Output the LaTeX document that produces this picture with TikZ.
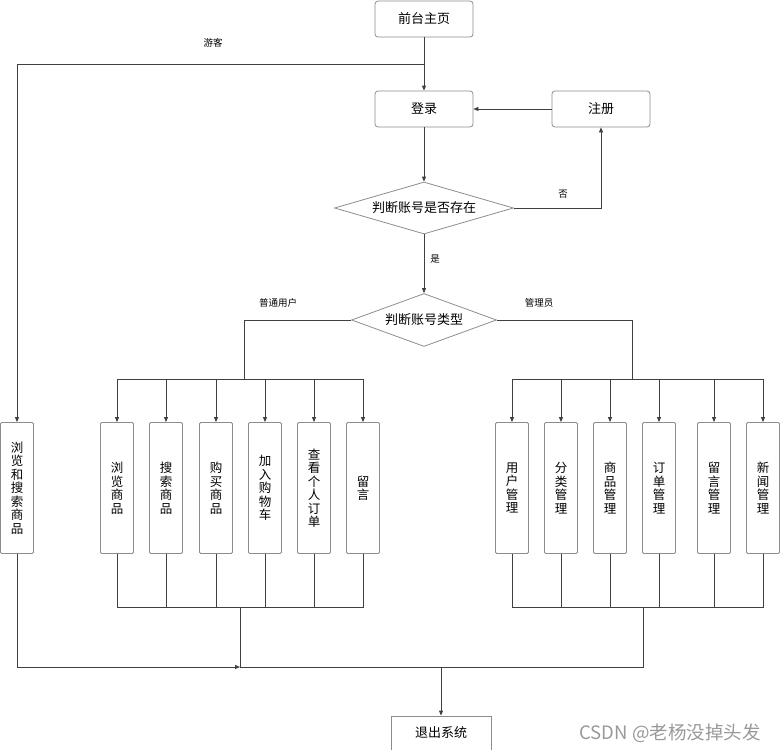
\documentclass[tikz,border=0pt]{standalone}
\usepackage{fontspec}
\newfontfamily\cjk{Noto Sans CJK SC}
\usetikzlibrary{positioning,arrows.meta,shapes.geometric,calc}

\begin{document}
\begin{tikzpicture}[
  x=1pt, y=-1pt,
  font=\cjk\fontsize{13}{15}\selectfont,
  box/.style={draw=black!45, line width=0.8pt, rounded corners=3pt, minimum width=98pt, minimum height=36pt, inner sep=2pt},
  decide/.style={diamond, draw=black!45, line width=0.8pt, inner sep=0pt, aspect=3},
  col/.style={draw=black!45, line width=0.8pt, rounded corners=1.2pt, minimum width=33pt, minimum height=131pt, inner sep=0pt, align=center, text width=14pt, font=\cjk\fontsize{12.5}{13.5}\selectfont},
  arr/.style={-{Triangle[length=5pt,width=4pt]}, black!75, line width=0.8pt},
  wire/.style={black!75, line width=0.8pt},
  note/.style={font=\cjk\fontsize{9.5}{11}\selectfont},
]
\useasboundingbox (0,0) rectangle (780,750);

% ---------------- top: entry, login, checks ----------------
\node[box] (home) at (424,19) {前台主页};
\node[box] (login) at (424,109) {登录};
\node[box] (reg) at (601,109) {注册};
\node[decide, minimum width=179pt, minimum height=52pt] (exists) at (424,208) {判断账号是否存在};
\node[decide, minimum width=145pt, minimum height=53pt] (kind) at (424,320) {判断账号类型};
\coordinate (guest) at (424,64);
\draw[arr] (home) -- (login);
\draw[arr] (reg) -- (login);
\draw[arr] (login) -- (exists);
\draw[arr] (exists.east) -| (reg.south);
\draw[arr] (exists) -- (kind);
\node[note] (lguest) at (213,43) {游客};
\node[note] (lno) at (563,194) {否};
\node[note] (lyes) at (435,259) {是};

% ---------------- guest column ----------------
\node[col] (browse) at (17,488) {浏\\览\\和\\搜\\索\\商\\品};
\draw[arr] (guest) -| (browse.north);

% ---------------- user columns ----------------
\node[col] (ubrowse) at (117,488) {浏\\览\\商\\品};
\node[col] (usearch) at (166,488) {搜\\索\\商\\品};
\node[col] (ubuy) at (216,488) {购\\买\\商\\品};
\node[col] (ucart) at (265,488) {加\\入\\购\\物\\车};
\node[col] (uorder) at (314,488) {查\\看\\个\\人\\订\\单};
\node[col] (umsg) at (363,488) {留\\言};
\coordinate (ubus) at (244,379);
\node[note] (luser) at (278,303) {普通用户};
\draw[wire] (kind.west) -| (ubus);
\draw[wire] (ubrowse.north |- ubus) -- (umsg.north |- ubus);
\draw[arr] (ubrowse.north |- ubus) -- (ubrowse.north);
\draw[arr] (usearch.north |- ubus) -- (usearch.north);
\draw[arr] (ubuy.north |- ubus) -- (ubuy.north);
\draw[arr] (ucart.north |- ubus) -- (ucart.north);
\draw[arr] (uorder.north |- ubus) -- (uorder.north);
\draw[arr] (umsg.north |- ubus) -- (umsg.north);

% ---------------- admin columns ----------------
\node[col] (auser) at (512,488) {用\\户\\管\\理};
\node[col] (acat) at (561,488) {分\\类\\管\\理};
\node[col] (agoods) at (610,488) {商\\品\\管\\理};
\node[col] (aorder) at (659,488) {订\\单\\管\\理};
\node[col] (amsg) at (714,488) {留\\言\\管\\理};
\node[col] (anews) at (763,488) {新\\闻\\管\\理};
\coordinate (abus) at (632,379);
\node[note] (ladmin) at (539,303) {管理员};
\draw[wire] (kind.east) -| (abus);
\draw[wire] (auser.north |- abus) -- (anews.north |- abus);
\draw[arr] (auser.north |- abus) -- (auser.north);
\draw[arr] (acat.north |- abus) -- (acat.north);
\draw[arr] (agoods.north |- abus) -- (agoods.north);
\draw[arr] (aorder.north |- abus) -- (aorder.north);
\draw[arr] (amsg.north |- abus) -- (amsg.north);
\draw[arr] (anews.north |- abus) -- (anews.north);

% ---------------- merge and exit ----------------
\coordinate (ujoin) at (240,607);
\coordinate (ajoin) at (643,607);
\coordinate (merge) at (240,667);
\coordinate (down) at (441,667);
\node[box, rounded corners=0pt, minimum width=100pt, minimum height=34pt] (quit) at (441,733) {退出系统};
\draw[wire] (ubrowse.south) -- (ubrowse.south |- ujoin) -- (umsg.south |- ujoin) -- (umsg.south)
  (usearch.south) -- (usearch.south |- ujoin) (ubuy.south) -- (ubuy.south |- ujoin)
  (ucart.south) -- (ucart.south |- ujoin) (uorder.south) -- (uorder.south |- ujoin);
\draw[wire] (auser.south) -- (auser.south |- ajoin) -- (anews.south |- ajoin) -- (anews.south)
  (acat.south) -- (acat.south |- ajoin) (agoods.south) -- (agoods.south |- ajoin)
  (aorder.south) -- (aorder.south |- ajoin) (amsg.south) -- (amsg.south |- ajoin);
\draw[wire] (ujoin) -- (merge);
\draw[wire] (ajoin) |- (merge);
\draw[arr] (browse.south) |- (merge);
\draw[arr] (down) -- (quit);

\node[font=\cjk\fontsize{18.5}{20}\selectfont, text=black!40] (mark) at (670,733) {CSDN @老杨没掉头发};
\end{tikzpicture}
\end{document}
